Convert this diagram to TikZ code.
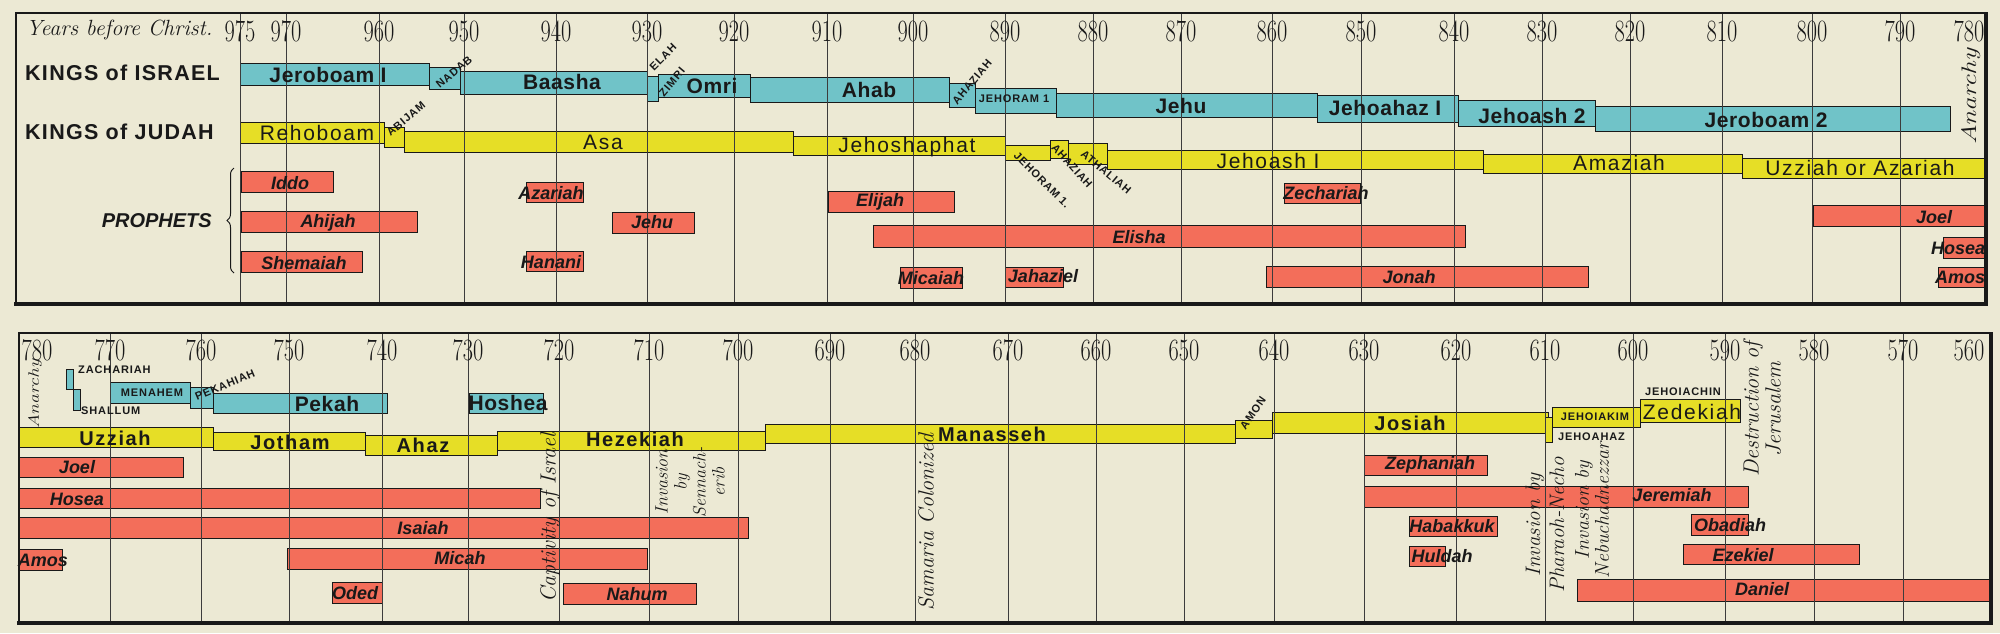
\documentclass[tikz,border=0pt]{standalone}
\usepackage{fontspec}
\setsansfont{Liberation Sans}
\newfontfamily\kfont[LetterSpace=3]{Liberation Sans}
\newfontfamily\hfont[LetterSpace=6]{Liberation Sans}
\newfontfamily\jfont[LetterSpace=8]{Liberation Sans}
\newfontfamily\jbfont[LetterSpace=8]{Liberation Sans}
\newfontfamily\capfont[LetterSpace=8]{Liberation Sans}
\usetikzlibrary{decorations.pathreplacing}
\definecolor{paper}{RGB}{236,233,212}
\definecolor{israel}{RGB}{112,195,200}
\definecolor{judah}{RGB}{230,222,38}
\definecolor{proph}{RGB}{243,110,90}
\definecolor{ink}{RGB}{25,25,25}
\newcommand\kbar[5]{\filldraw[fill=#1, draw=ink, line width=0.8pt] (#2,#3) rectangle (#4,#5);}
\newcommand\yrs[1]{\scalebox{0.72}[1]{#1}}
\tikzset{
  every node/.style={inner sep=0pt, text=ink},
  grid/.style={draw=ink!85, line width=0.9pt},
  year/.style={font=\fontsize{31}{31}\selectfont},
  kisr/.style={font=\kfont\bfseries\fontsize{21}{21}\selectfont},
  kjud/.style={font=\jfont\fontsize{21}{21}\selectfont},
  kjudb/.style={font=\jbfont\bfseries\fontsize{20}{20}\selectfont},
  kcap/.style={font=\capfont\bfseries\fontsize{11}{11}\selectfont},
  pro/.style={font=\sffamily\bfseries\itshape\fontsize{18}{18}\selectfont},
  head/.style={font=\hfont\bfseries\fontsize{21.5}{21.5}\selectfont, anchor=west},
  event/.style={font=\itshape\fontsize{21}{22}\selectfont, rotate=90, align=center},
}
\begin{document}
\begin{tikzpicture}[x=1pt, y=-1pt]
\useasboundingbox (0,0) rectangle (2000,633);
\fill[paper] (0,0) rectangle (2000,633);
% ---------- TOP PANEL bars ----------
% Israel
\kbar{israel}{240}{63}{429}{85}
\kbar{israel}{429}{67}{460}{89}
\kbar{israel}{460}{71}{647}{94}
\kbar{israel}{647}{76}{658}{101}
\kbar{israel}{658}{74}{750}{97}
\kbar{israel}{750}{77}{949}{102}
\kbar{israel}{949}{83}{975}{107}
\kbar{israel}{975}{88}{1056}{113}
\kbar{israel}{1056}{93}{1317}{117}
\kbar{israel}{1317}{95}{1458}{122}
\kbar{israel}{1458}{100}{1595}{126}
\kbar{israel}{1595}{106}{1950}{131}
% Judah
\kbar{judah}{240}{122}{384}{143}
\kbar{judah}{384}{127}{404}{147}
\kbar{judah}{404}{131}{793}{152}
\kbar{judah}{793}{136}{1005}{155}
\kbar{judah}{1005}{145}{1050}{160}
\kbar{judah}{1050}{140}{1068}{158}
\kbar{judah}{1068}{143}{1107}{164}
\kbar{judah}{1107}{150}{1483}{169}
\kbar{judah}{1483}{154}{1742}{173}
\kbar{judah}{1742}{158}{1986}{178}
% Prophets
\kbar{proph}{241}{171}{333}{192}
\kbar{proph}{241}{211}{417}{232}
\kbar{proph}{241}{251}{362}{272}
\kbar{proph}{526}{182}{583}{202}
\kbar{proph}{526}{251}{583}{271}
\kbar{proph}{612}{212}{694}{233}
\kbar{proph}{828}{191}{954}{212}
\kbar{proph}{873}{225}{1465}{247}
\kbar{proph}{900}{267}{962}{288}
\kbar{proph}{1005}{267}{1063}{287}
\kbar{proph}{1284}{183}{1360}{203}
\kbar{proph}{1266}{266}{1588}{287}
\kbar{proph}{1813}{205}{1985}{226}
\kbar{proph}{1943}{237}{1985}{258}
\kbar{proph}{1938}{267}{1985}{287}
% ---------- BOTTOM PANEL bars ----------
\kbar{israel}{66}{369}{73}{389}
\kbar{israel}{73}{389}{80}{410}
\kbar{israel}{110}{382}{190}{403}
\kbar{israel}{190}{387}{213}{408}
\kbar{israel}{213}{393}{387}{413}
\kbar{israel}{469}{393}{543}{413}
\kbar{judah}{19}{427}{213}{447}
\kbar{judah}{213}{432}{365}{450}
\kbar{judah}{365}{435}{497}{455}
\kbar{judah}{497}{431}{765}{450}
\kbar{judah}{765}{424}{1235}{443}
\kbar{judah}{1235}{420}{1272}{438}
\kbar{judah}{1272}{412}{1548}{433}
\kbar{judah}{1545}{417}{1552}{442}
\kbar{judah}{1552}{407}{1640}{427}
\kbar{judah}{1640}{399}{1740}{422}
\kbar{proph}{19}{457}{183}{477}
\kbar{proph}{19}{488}{540}{508}
\kbar{proph}{19}{517}{748}{538}
\kbar{proph}{19}{549}{62}{570}
\kbar{proph}{287}{548}{647}{569}
\kbar{proph}{332}{582}{382}{603}
\kbar{proph}{563}{583}{696}{604}
\kbar{proph}{1364}{455}{1487}{475}
\kbar{proph}{1364}{486}{1748}{507}
\kbar{proph}{1409}{516}{1497}{536}
\kbar{proph}{1409}{546}{1445}{566}
\kbar{proph}{1691}{514}{1748}{535}
\kbar{proph}{1683}{544}{1859}{564}
\kbar{proph}{1577}{579}{1990}{601}
% ---------- grids and years ----------
\foreach \yr/\x in {975/240,970/286,960/379,950/464,940/556,930/647,920/734,910/827,900/913,890/1005,880/1093,870/1181,860/1272,850/1361,840/1454,830/1542,820/1630,810/1722,800/1812,790/1900}{
  \draw[grid] (\x,13) -- (\x,304);
  \node[year] (t\yr) at (\x,31) {\yrs{\yr}};
}
\node[year] (t780) at (1969,31) {\yrs{780}};
\foreach \yr/\x in {770/110,760/201,750/289,740/382,730/468,720/559,710/649,700/738,690/830,680/915,670/1008,660/1096,650/1184,640/1274,630/1364,620/1456,610/1545,600/1633,590/1725,580/1814,570/1903}{
  \draw[grid] (\x,333) -- (\x,623);
  \node[year] (b\yr) at (\x,350) {\yrs{\yr}};
}
\node[year] (b780) at (37,350) {\yrs{780}};
\node[year] (b560) at (1969,350) {\yrs{560}};
% frames
\draw[ink, line width=1.5pt] (16,13) rectangle (1986,304);
\draw[ink, line width=4pt] (14,304) -- (1988,304) (1986,304) -- (1986,12);
\draw[ink, line width=1.5pt] (19,333) rectangle (1991,623);
\draw[ink, line width=4pt] (17,623) -- (1993,623) (1991,623) -- (1991,332);
% ---------- top labels ----------
\node[font=\itshape\fontsize{22}{22}\selectfont, anchor=west] (ybc) at (26,30) {Years before Christ.};
\node[head] (hisr) at (25,73) {KINGS of ISRAEL};
\node[head] (hjud) at (25,132) {KINGS of JUDAH};
\node[font=\sffamily\bfseries\itshape\fontsize{20}{20}\selectfont, anchor=east] (hpro) at (212,221) {PROPHETS};
\coordinate (brT) at (234,168);
\coordinate (brB) at (234,273);
\draw[ink, line width=1pt, decorate, decoration={brace, amplitude=7pt}] (brB) -- (brT);
\node[kisr] (nJerI) at (328,75) {Jeroboam I};
\node[kisr] (nBaasha) at (562,82) {Baasha};
\node[kisr] (nOmri) at (712,86) {Omri};
\node[kisr] (nAhab) at (869,90) {Ahab};
\node[kisr] (nJehu) at (1181,106) {Jehu};
\node[kisr] (nJehoahaz) at (1385,108) {Jehoahaz I};
\node[kisr] (nJehoash) at (1532,116) {Jehoash 2};
\node[kisr] (nJerII) at (1766,120) {Jeroboam 2};
\node[kcap, rotate=40] (nNadab) at (454,72) {NADAB};
\node[kcap, rotate=45] (nElah) at (663,57) {ELAH};
\node[kcap, rotate=50] (nZimri) at (672,82) {ZIMRI};
\node[kcap, rotate=50] (nAhazI) at (972,82) {AHAZIAH};
\node[kcap] (nJehoramI) at (1014,99) {JEHORAM 1};
\node[font=\itshape\fontsize{21}{21}\selectfont, rotate=90] (nAnarchyT) at (1971,97) {\scalebox{1.3}[1]{Anarchy}};
\node[kjud] (nReh) at (317,133) {Rehoboam};
\node[kcap, rotate=40] (nAbijam) at (406,119) {ABIJAM};
\node[kjud] (nAsa) at (603,142) {Asa};
\node[kjud] (nJehosh) at (907,147) {Jehoshaphat};
\node[kcap, rotate=-45] (nJehoramJ) at (1042,180) {JEHORAM 1.};
\node[kcap, rotate=-48] (nAhazJ) at (1072,166) {AHAZIAH};
\node[kcap, rotate=-40] (nAthal) at (1106,172) {ATHALIAH};
\node[kjud] (nJehoashI) at (1268,161) {Jehoash I};
\node[kjud] (nAmaz) at (1619,163) {Amaziah};
\node[kjud] (nUzzT) at (1860,168) {Uzziah or Azariah};
\node[pro] (pIddo) at (290,183) {Iddo};
\node[pro] (pAhijah) at (328,223) {Ahijah};
\node[pro] (pShem) at (304,263) {Shemaiah};
\node[pro] (pAzar) at (551,193) {Azariah};
\node[pro] (pHanani) at (551,262) {Hanani};
\node[pro] (pJehu) at (652,222) {Jehu};
\node[pro] (pElijah) at (880,202) {Elijah};
\node[pro] (pElisha) at (1139,237) {Elisha};
\node[pro] (pMicaiah) at (931,278) {Micaiah};
\node[pro] (pJahaziel) at (1043,276) {Jahaziel};
\node[pro] (pZech) at (1326,193) {Zechariah};
\node[pro] (pJonah) at (1409,277) {Jonah};
\node[pro] (pJoelT) at (1934,217) {Joel};
\node[pro] (pHoseaT) at (1958,248) {Hosea};
\node[pro] (pAmosT) at (1960,277) {Amos};
% ---------- bottom labels ----------
\node[font=\itshape\fontsize{15}{15}\selectfont, rotate=90] (nAnarchyB) at (35,394) {\scalebox{1.3}[1]{Anarchy}};
\node[kcap, anchor=west] (nZach) at (78,370) {ZACHARIAH};
\node[kcap, anchor=west] (nShallum) at (81,411) {SHALLUM};
\node[kcap] (nMenahem) at (152,393) {MENAHEM};
\node[kcap, rotate=23] (nPekahiah) at (225,385) {PEKAHIAH};
\node[kisr] (nPekah) at (327,404) {Pekah};
\node[kisr] (nHoshea) at (508,403) {Hoshea};
\node[kjudb] (nUzz) at (115,438) {Uzziah};
\node[kjudb] (nJotham) at (290,442) {Jotham};
\node[kjudb] (nAhaz) at (423,445) {Ahaz};
\node[kjudb] (nHez) at (635,439) {Hezekiah};
\node[kjudb] (nManasseh) at (992,434) {Manasseh};
\node[kcap, rotate=55] (nAmon) at (1253,413) {AMON};
\node[kjudb] (nJosiah) at (1410,423) {Josiah};
\node[kcap, anchor=west] (nJehoahazB) at (1558,437) {JEHOAHAZ};
\node[kcap] (nJehoiakim) at (1595,417) {JEHOIAKIM};
\node[kcap] (nJehoiachin) at (1683,392) {JEHOIACHIN};
\node[font=\jfont\fontsize{21}{21}\selectfont] (nZed) at (1692,412) {Zedekiah};
\node[event, font=\itshape\fontsize{22}{22}\selectfont] (eDest) at (1762,409) {Destruction of\\Jerusalem};
\node[event, font=\itshape\fontsize{22}{22}\selectfont] (eCapt) at (550,518) {Captivity of Israel};
\node[event, font=\itshape\fontsize{18}{19}\selectfont] (eSenn) at (690,482) {Invasion\\by\\Sennach-\\erib};
\node[event, font=\itshape\fontsize{22}{22}\selectfont] (eSam) at (926,522) {Samaria Colonized};
\node[event, font=\itshape\fontsize{21}{24}\selectfont] (eNecho) at (1545,525) {Invasion by\\Pharaoh-Necho};
\node[event, font=\itshape\fontsize{20}{20}\selectfont] (eNeb) at (1592,510) {Invasion by\\Nebuchadnezzar};
\node[pro] (pJoel) at (77,467) {Joel};
\node[pro] (pHosea) at (77,499) {Hosea};
\node[pro] (pIsaiah) at (423,528) {Isaiah};
\node[pro] (pAmos) at (43,560) {Amos};
\node[pro] (pMicah) at (460,558) {Micah};
\node[pro] (pOded) at (355,593) {Oded};
\node[pro] (pNahum) at (637,594) {Nahum};
\node[pro] (pZeph) at (1430,465) {Zephaniah};
\node[pro] (pJer) at (1672,495) {Jeremiah};
\node[pro] (pHab) at (1452,526) {Habakkuk};
\node[pro] (pHuldah) at (1442,556) {Huldah};
\node[pro] (pObad) at (1730,525) {Obadiah};
\node[pro] (pEzek) at (1743,555) {Ezekiel};
\node[pro] (pDaniel) at (1762,589) {Daniel};
\end{tikzpicture}
\end{document}
